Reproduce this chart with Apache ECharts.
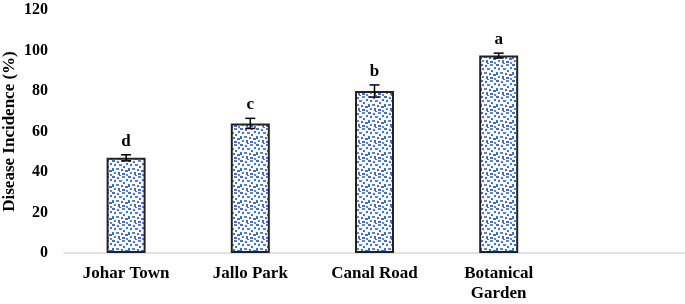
<!DOCTYPE html>
<html>
<head>
<meta charset="utf-8">
<script src="https://cdn.jsdelivr.net/npm/echarts@6/dist/echarts.min.js"></script>
<style>
  html, body { margin: 0; padding: 0; background: #fff; }
  #chart { width: 685px; height: 304px; }
</style>
</head>
<body>
<div id="chart"></div>
<script>
  // 数据
  var categories = ['Johar Town', 'Jallo Park', 'Canal Road', 'Botanical\nGarden', '']
  var incidence = [47, 64, 80, 97.5, null]
  var errors = [1.5, 2.5, 3, 1.2, null]
  var letters = ['d', 'c', 'b', 'a', '']

  var serif = '"Liberation Serif", "Times New Roman", serif'

  // 蓝色点状填充
  function dotPattern() {
    var c = document.createElement('canvas')
    c.width = 16
    c.height = 16
    var ctx = c.getContext('2d')
    ctx.fillStyle = '#ffffff'
    ctx.fillRect(0, 0, 16, 16)
    var dots = [
      [0, 0, 3, 2], [5, 1, 2, 2], [10, 0, 3, 2], [14, 3, 2, 2],
      [2, 4, 2, 2], [7, 4, 3, 2], [11, 6, 2, 2], [0, 8, 2, 3],
      [4, 8, 3, 2], [9, 9, 2, 2], [13, 10, 3, 2], [2, 12, 2, 2],
      [6, 12, 2, 3], [10, 13, 3, 2], [14, 14, 2, 2], [7, 15, 2, 1]
    ]
    var cols = ['#4472C4', '#3f6fd0', '#5b84d3']
    dots.forEach(function (d, i) {
      ctx.fillStyle = cols[i % 3]
      ctx.fillRect(d[0], d[1], d[2], d[3])
    })
    return c
  }

  var chart = echarts.init(document.getElementById('chart'))
  var option = {
    animation: false,
    grid: { left: 64, right: 0, top: 10, bottom: 51, outerBoundsMode: 'none', containLabel: false },
    xAxis: {
      type: 'category',
      data: categories,
      axisTick: { show: false },
      axisLine: { lineStyle: { color: '#d9d9d9', width: 1.5 } },
      axisLabel: {
        color: '#000',
        fontFamily: serif,
        fontWeight: 'bold',
        fontSize: 17,
        margin: 11,
        lineHeight: 20,
        interval: 0
      }
    },
    yAxis: {
      type: 'value',
      min: 0,
      max: 120,
      interval: 20,
      name: 'Disease Incidence (%)',
      nameLocation: 'middle',
      nameGap: 46,
      nameMoveOverlap: false,
      nameTextStyle: {
        color: '#000',
        fontFamily: serif,
        fontWeight: 'bold',
        fontSize: 17
      },
      axisLine: { show: false },
      axisTick: { show: false },
      splitLine: { show: false },
      axisLabel: {
        color: '#000',
        fontFamily: serif,
        fontWeight: 'bold',
        fontSize: 16,
        margin: 16
      }
    },
    series: [{
      type: 'bar',
      data: incidence,
      barWidth: 39,
      itemStyle: {
        color: { image: dotPattern(), repeat: 'repeat' },
        borderColor: '#222',
        borderWidth: 2
      }
    }, {
      type: 'custom',
      data: incidence.map(function (v, i) { return [i, v, errors[i]] }),
      renderItem: function (params, api) {
        var v = api.value(1)
        if (v == null || isNaN(v)) return
        var e = api.value(2)
        var top = api.coord([api.value(0), v + e])
        var bot = api.coord([api.value(0), v - e])
        var hw = 5
        var st = { stroke: '#000', lineWidth: 1.5 }
        return {
          type: 'group',
          children: [
            { type: 'line', shape: { x1: top[0], y1: top[1], x2: bot[0], y2: bot[1] }, style: st },
            { type: 'line', shape: { x1: top[0] - hw, y1: top[1], x2: top[0] + hw, y2: top[1] }, style: st },
            { type: 'line', shape: { x1: bot[0] - hw, y1: bot[1], x2: bot[0] + hw, y2: bot[1] }, style: st },
            {
              type: 'text',
              x: top[0],
              y: top[1] - 5,
              style: {
                text: letters[params.dataIndex],
                fill: '#000',
                font: 'bold 17px ' + serif,
                align: 'center',
                verticalAlign: 'bottom'
              }
            }
          ]
        }
      },
      z: 5
    }]
  }
  chart.setOption(option)
</script>
</body>
</html>
